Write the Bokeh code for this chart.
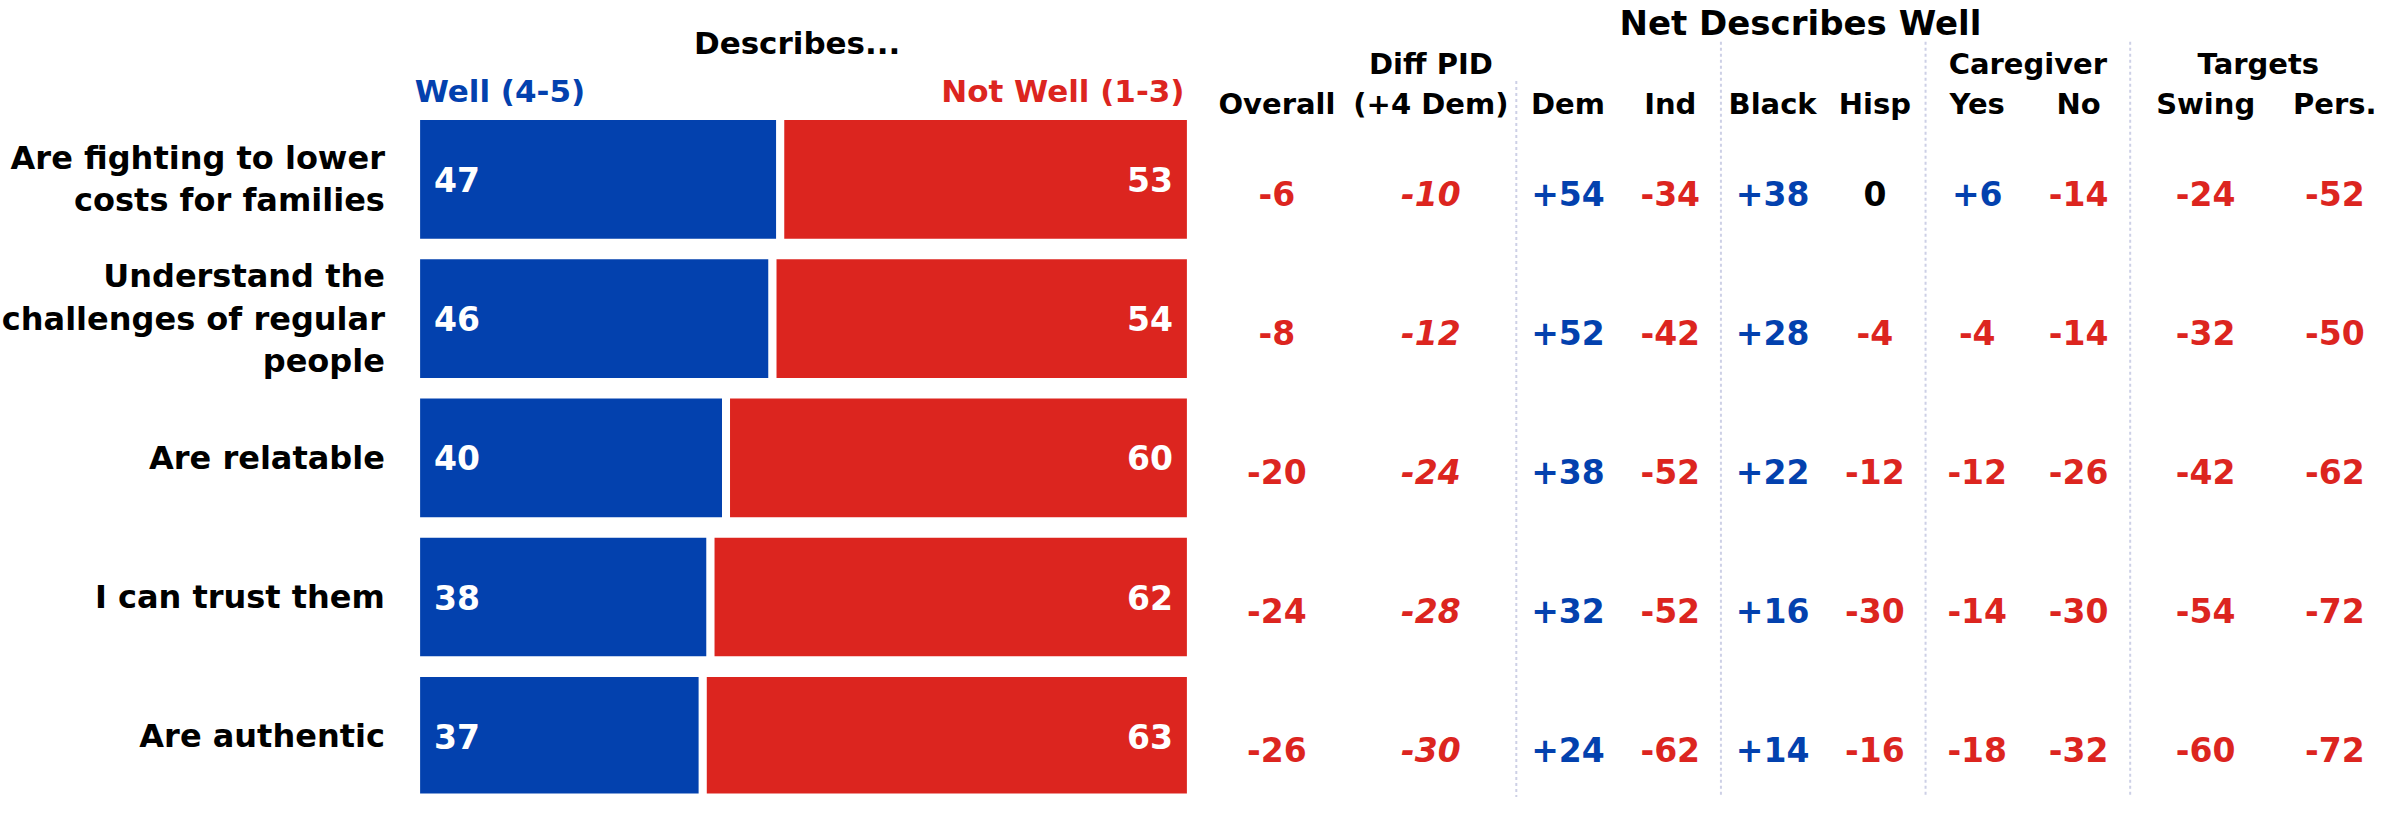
import numpy as np
from bokeh.plotting import figure
from bokeh.models import Range1d, ColumnDataSource
from bokeh.core.properties import value
from bokeh.embed import file_html
from bokeh.resources import INLINE

# ---------------- data ----------------
categories = [
    "Are fighting to lower\ncosts for families",
    "Understand the\nchallenges of regular\npeople",
    "Are relatable",
    "I can trust them",
    "Are authentic",
]
well = [47, 46, 40, 38, 37]
not_well = [53, 54, 60, 62, 63]

net_columns = ["Overall", "(+4 Dem)", "Dem", "Ind", "Black", "Hisp", "Yes", "No", "Swing", "Pers."]
overall = [-6, -8, -20, -24, -26]
diff_pid = [-10, -12, -24, -28, -30]
dem = [54, 52, 38, 32, 24]
ind = [-34, -42, -52, -52, -62]
black = [38, 28, 22, 16, 14]
hisp = [0, -4, -12, -30, -16]
caregiver_yes = [6, -4, -12, -14, -18]
caregiver_no = [-14, -14, -26, -30, -32]
swing = [-24, -32, -42, -54, -60]
persuasion = [-52, -50, -62, -72, -72]
net_values = [overall, diff_pid, dem, ind, black, hisp, caregiver_yes, caregiver_no, swing, persuasion]

group_headers = ["Diff PID", "Caregiver", "Targets"]

# ---------------- style / layout ----------------
BLUE = "#0341AE"
RED = "#DC251F"
BLACK = "#000000"
SEP = "#CDD0E6"
FONT = value("DejaVu Sans")

REF_W, REF_H = 2396, 813
X0, SX = 418.4, 7.8      # reference px of 0 %, px per %
Y0, SY = 182.5, 142.0    # reference px of first row centre, px per row


def px(r):
    return (r - X0) / SX


def py(r):
    return (r - Y0) / SY


col_centers = [1285, 1440, 1578, 1681, 1784, 1887, 1990, 2092, 2220, 2350]
group_centers = [1440, 2041, 2273]
sep_x = [1526, 1732, 1938, 2144]
sep_top = [82, 42, 42, 42]

rows = np.arange(len(categories))

p = figure(width=2380, height=797,
           x_range=Range1d(px(0), px(REF_W)),
           y_range=Range1d(py(REF_H), py(0)),
           output_backend="svg", toolbar_location=None,
           x_axis_location=None, y_axis_location=None,
           min_border=0, outline_line_color=None,
           background_fill_color="white", border_fill_color="white")
p.grid.visible = False

# separators
p.segment(x0=[px(v) for v in sep_x], x1=[px(v) for v in sep_x],
          y0=[py(v) for v in sep_top], y1=[py(REF_H)] * len(sep_x),
          line_color=SEP, line_width=2, line_dash="3 3")

# bars
src = ColumnDataSource(dict(y=rows, well=well, not_well=not_well,
                            total=[w + n for w, n in zip(well, not_well)],
                            well_lbl=[str(v) for v in well],
                            nw_lbl=[str(v) for v in not_well],
                            cat=categories))
p.hbar(y="y", left=0, right="well", height=0.91, source=src,
       fill_color=BLUE, line_color="white", line_width=8)
p.hbar(y="y", left="well", right="total", height=0.91, source=src,
       fill_color=RED, line_color="white", line_width=8)

p.text(x=0, y="y", text="well_lbl", source=src, x_offset=18,
       text_align="left", text_baseline="middle", text_color="white",
       text_font=FONT, text_font_style="bold", text_font_size="33px")
p.text(x="total", y="y", text="nw_lbl", source=src, x_offset=-18,
       text_align="right", text_baseline="middle", text_color="white",
       text_font=FONT, text_font_style="bold", text_font_size="33px")

# category labels
p.text(x=px(387), y="y", text="cat", source=src,
       text_align="right", text_baseline="middle", text_color=BLACK,
       text_font=FONT, text_font_style="bold", text_font_size="32px",
       text_line_height=1.11)

# headers left
p.text(x=[px(802)], y=[py(43)], text=["Describes..."], text_align="center",
       text_baseline="middle", text_color=BLACK, text_font=FONT,
       text_font_style="bold", text_font_size="31px")
p.text(x=[px(417)], y=[py(92)], text=["Well (4-5)"], text_align="left",
       text_baseline="middle", text_color=BLUE, text_font=FONT,
       text_font_style="bold", text_font_size="31px")
p.text(x=[px(1192)], y=[py(92)], text=["Not Well (1-3)"], text_align="right",
       text_baseline="middle", text_color=RED, text_font=FONT,
       text_font_style="bold", text_font_size="31px")

# headers right
p.text(x=[px(1812)], y=[py(23)], text=["Net Describes Well"], text_align="center",
       text_baseline="middle", text_color=BLACK, text_font=FONT,
       text_font_style="bold", text_font_size="34px")
p.text(x=[px(v) for v in group_centers], y=[py(65)] * 3, text=group_headers,
       text_align="center", text_baseline="middle", text_color=BLACK,
       text_font=FONT, text_font_style="bold", text_font_size="29px")
p.text(x=[px(v) for v in col_centers], y=[py(106)] * len(net_columns), text=net_columns,
       text_align="center", text_baseline="middle", text_color=BLACK,
       text_font=FONT, text_font_style="bold", text_font_size="29px")


def fmt(v):
    return f"+{v}" if v > 0 else str(v)


def col(v):
    return BLUE if v > 0 else (RED if v < 0 else BLACK)


for ci, (cx, vals) in enumerate(zip(col_centers, net_values)):
    s = ColumnDataSource(dict(x=[px(cx)] * len(vals), y=rows + 14 / SY,
                              t=[fmt(v) for v in vals], c=[col(v) for v in vals]))
    p.text(x="x", y="y", text="t", text_color="c", source=s,
           text_align="center", text_baseline="middle", text_font=FONT,
           text_font_style="bold italic" if ci == 1 else "bold",
           text_font_size="33px")

open("out.html", "w").write(file_html(p, INLINE))
